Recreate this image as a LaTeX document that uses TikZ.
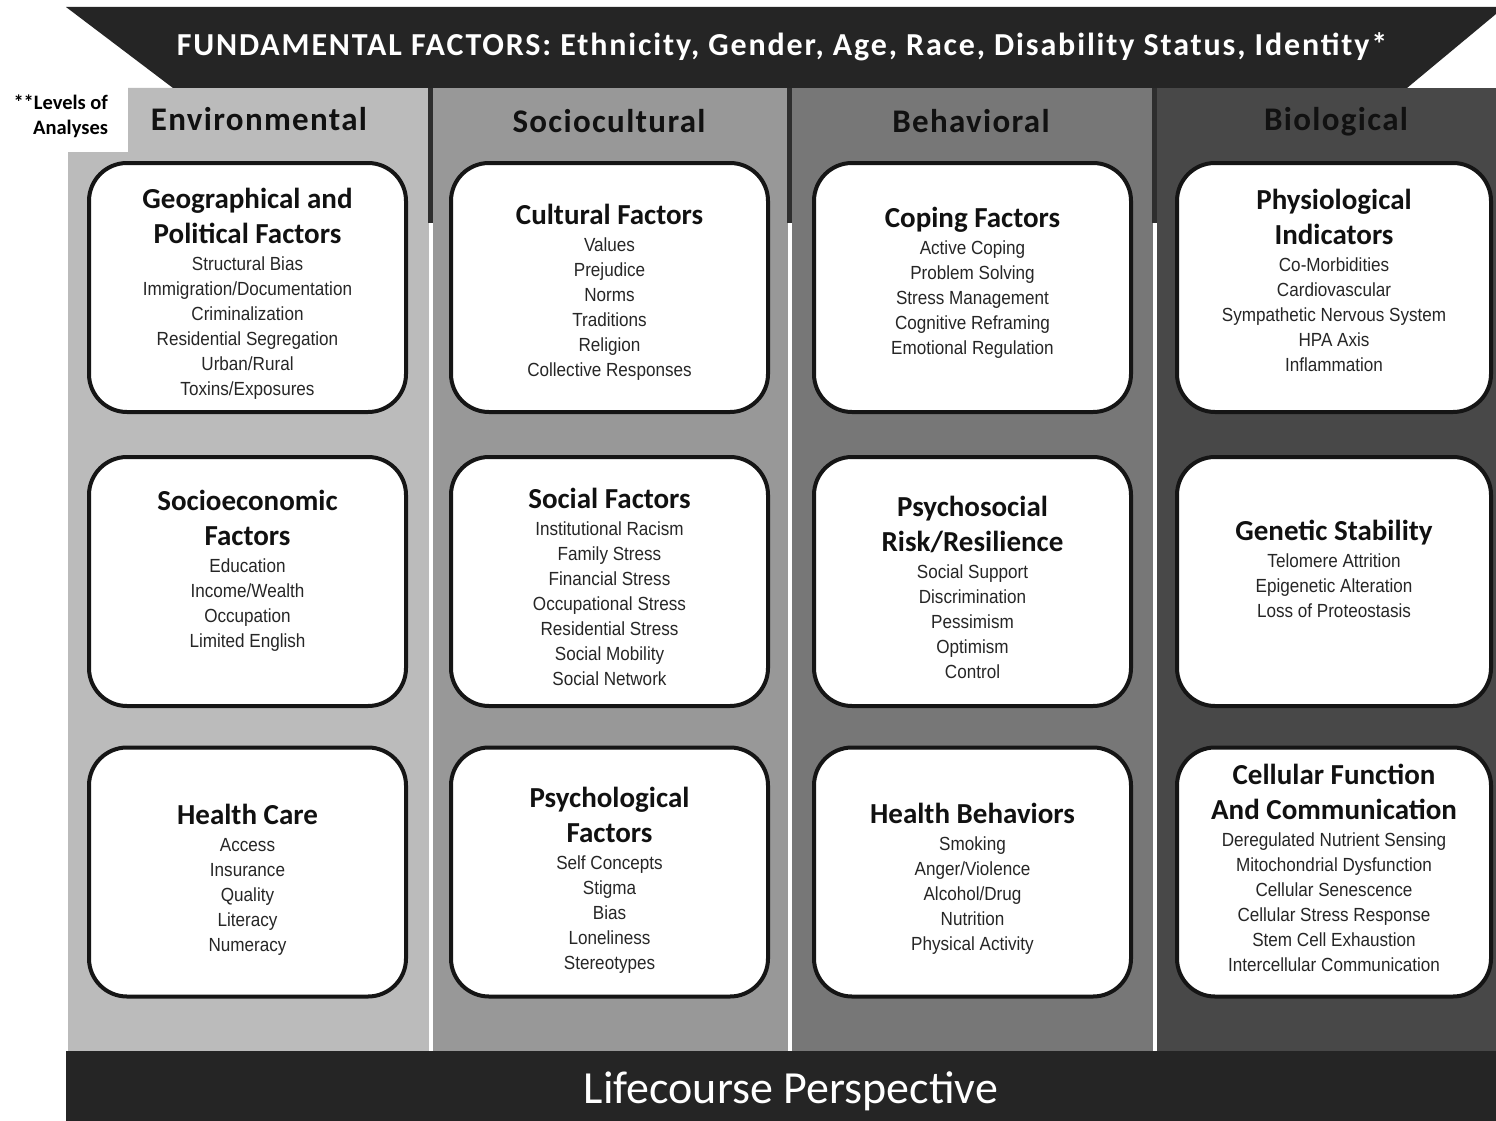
\documentclass[tikz,border=0pt]{standalone}
\usepackage{fontspec}
\setmainfont{Carlito}
\newfontfamily\hdrfont[LetterSpace=4]{Carlito}
\newfontfamily\banfont[LetterSpace=5.8]{Carlito}
\newfontfamily\itmfont[FakeStretch=0.9]{Liberation Sans}
\definecolor{banner}{HTML}{252525}
\definecolor{envc}{HTML}{BBBBBB}
\definecolor{socc}{HTML}{989898}
\definecolor{behc}{HTML}{777777}
\definecolor{bioc}{HTML}{484848}
\definecolor{divdark}{HTML}{2E2E2E}
\definecolor{boxline}{HTML}{151515}
\definecolor{itemc}{HTML}{262626}
\definecolor{hdrc}{HTML}{111111}
\newcommand\setupv{\lineskiplimit=-1000pt\lineskip=0pt}
\newcommand\T[1]{\baselineskip=35pt\hbox to 0pt{\hss\fontsize{29}{35}\selectfont\bfseries\color{hdrc}#1\hss}}
\newcommand\J[1]{\baselineskip=27.5pt\hbox to 0pt{\hss\itmfont\fontsize{19}{25}\selectfont\color{itemc}#1\hss}}
\newcommand\I[1]{\baselineskip=25pt\hbox to 0pt{\hss\itmfont\fontsize{19}{25}\selectfont\color{itemc}#1\hss}}
\begin{document}
\begin{tikzpicture}[x=1pt,y=-1pt,
  cell/.style={draw=boxline, line width=4pt, fill=white, rounded corners=38pt,
    minimum width=317pt, minimum height=249pt, inner sep=0pt},
  txt/.style={anchor=base, inner sep=0pt},
  hdr/.style={anchor=base, inner sep=0pt, text=hdrc, font=\hdrfont\bfseries\fontsize{33}{38}\selectfont}]
\useasboundingbox (0,0) rectangle (1496,1121);
\fill[white] (0,0) rectangle (1496,1121);
% column backgrounds
\fill[envc] (68,152) -- (128,152) -- (128,88) -- (430,88) -- (430,1051) -- (68,1051) -- cycle;
\fill[socc] (430,88) rectangle (790,1051);
\fill[behc] (790,88) rectangle (1154,1051);
\fill[bioc] (1154,88) rectangle (1496,1051);
% dividers
\foreach \x in {430.5,789.5,1154.5} {
  \fill[divdark] (\x-2.5,88) rectangle (\x+2.5,223);
  \fill[white] (\x-2,223) rectangle (\x+2,1051);
}
% banners
\fill[banner] (66,7) -- (1496,7) -- (1496,14) -- (1407,88) -- (173,88) -- cycle;
\fill[banner] (66,1051) rectangle (1496,1121);
\node[txt, text=white, font=\banfont\bfseries\fontsize{32}{38}\selectfont] (fund) at (782,56)
  {FUNDAMENTAL FACTORS: Ethnicity, Gender, Age, Race, Disability Status, Identity*};
\node[txt, text=white, font=\fontsize{46}{50}\selectfont] (life) at (791,1103) {Lifecourse Perspective};
% levels label
\node[txt] (lvl) at (108,110) {\vtop{\setupv\baselineskip=25pt
  \hbox to 0pt{\hss\fontsize{20.5}{25}\selectfont\bfseries **Levels of}
  \hbox to 0pt{\hss\fontsize{20.5}{25}\selectfont\bfseries Analyses}}};
% headers
\node[hdr] (henv) at (259,131) {Environmental};
\node[hdr] (hsoc) at (609,132) {Sociocultural};
\node[hdr] (hbeh) at (971,132) {Behavioral};
\node[hdr] (hbio) at (1336,131) {Biological};
% boxes
\node[cell] (c11) at (247.5,287.5) {};
\node[cell] (c12) at (247.5,581.5) {};
\node[cell] (c13) at (247.5,872) {};
\node[cell] (c21) at (609.5,287.5) {};
\node[cell] (c22) at (609.5,581.5) {};
\node[cell] (c23) at (609.5,872) {};
\node[cell] (c31) at (972.5,287.5) {};
\node[cell] (c32) at (972.5,581.5) {};
\node[cell] (c33) at (972.5,872) {};
\node[cell, minimum width=314pt] (c41) at (1334,287.5) {};
\node[cell, minimum width=314pt] (c42) at (1334,581.5) {};
\node[cell, minimum width=314pt] (c43) at (1334,872) {};
% box texts
\node[txt] (t11) at (247.5,208) {\vtop{\setupv\T{Geographical and}\T{Political Factors}\J{Structural Bias}\I{Immigration/Documentation}\I{Criminalization}\I{Residential Segregation}\I{Urban/Rural}\I{Toxins/Exposures}}};
\node[txt] (t12) at (247.5,510) {\vtop{\setupv\T{Socioeconomic}\T{Factors}\J{Education}\I{Income/Wealth}\I{Occupation}\I{Limited English}}};
\node[txt] (t13) at (247.5,824) {\vtop{\setupv\T{Health Care}\J{Access}\I{Insurance}\I{Quality}\I{Literacy}\I{Numeracy}}};
\node[txt] (t21) at (609.5,224) {\vtop{\setupv\T{Cultural Factors}\J{Values}\I{Prejudice}\I{Norms}\I{Traditions}\I{Religion}\I{Collective Responses}}};
\node[txt] (t22) at (609.5,508) {\vtop{\setupv\T{Social Factors}\J{Institutional Racism}\I{Family Stress}\I{Financial Stress}\I{Occupational Stress}\I{Residential Stress}\I{Social Mobility}\I{Social Network}}};
\node[txt] (t23) at (609.5,807) {\vtop{\setupv\T{Psychological}\T{Factors}\J{Self Concepts}\I{Stigma}\I{Bias}\I{Loneliness}\I{Stereotypes}}};
\node[txt] (t31) at (972.5,227) {\vtop{\setupv\T{Coping Factors}\J{Active Coping}\I{Problem Solving}\I{Stress Management}\I{Cognitive Reframing}\I{Emotional Regulation}}};
\node[txt] (t32) at (972.5,516) {\vtop{\setupv\T{Psychosocial}\T{Risk/Resilience}\J{Social Support}\I{Discrimination}\I{Pessimism}\I{Optimism}\I{Control}}};
\node[txt] (t33) at (972.5,823) {\vtop{\setupv\T{Health Behaviors}\J{Smoking}\I{Anger/Violence}\I{Alcohol/Drug}\I{Nutrition}\I{Physical Activity}}};
\node[txt] (t41) at (1334,209) {\vtop{\setupv\T{Physiological}\T{Indicators}\J{Co-Morbidities}\I{Cardiovascular}\I{Sympathetic Nervous System}\I{HPA Axis}\I{Inflammation}}};
\node[txt] (t42) at (1334,540) {\vtop{\setupv\T{Genetic Stability}\J{Telomere Attrition}\I{Epigenetic Alteration}\I{Loss of Proteostasis}}};
\node[txt] (t43) at (1334,784) {\vtop{\setupv\T{Cellular Function}\T{And Communication}\J{Deregulated Nutrient Sensing}\I{Mitochondrial Dysfunction}\I{Cellular Senescence}\I{Cellular Stress Response}\I{Stem Cell Exhaustion}\I{Intercellular Communication}}};
\end{tikzpicture}
\end{document}
